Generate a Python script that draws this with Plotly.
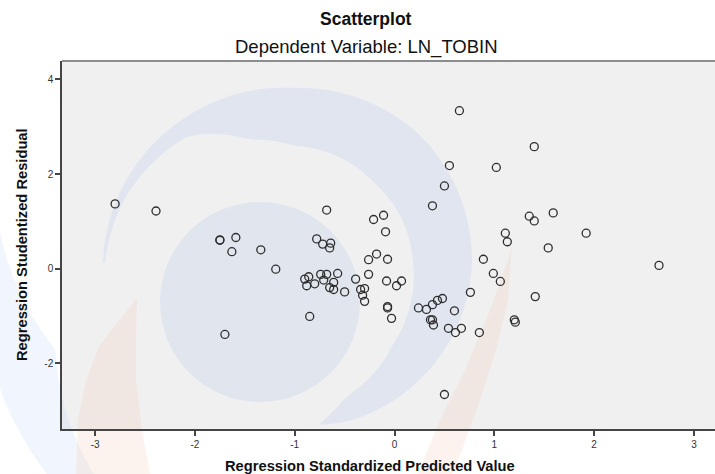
import math

import plotly.graph_objects as go

# Regression standardized predicted value (x) vs studentized residual (y)
pred_value = [
    -2.80, -2.39, -1.75, -1.75, -1.59, -1.63, -1.34, -1.19, -1.70, -0.85,
    -0.68, -0.78, -0.72, -0.64, -0.65, -0.90, -0.86, -0.88, -0.80, -0.74,
    -0.68, -0.71, -0.57, -0.61, -0.65, -0.61, -0.50, -0.39, -0.34, -0.30,
    -0.32, -0.30, -0.26, -0.26, -0.18, -0.07, -0.21, -0.11, -0.09, -0.08,
    0.07, 0.02, -0.07, -0.07, -0.03, 0.24, 0.32, 0.38, 0.43, 0.48,
    0.60, 0.36, 0.38, 0.39, 0.54, 0.61, 0.67, 0.85, 0.50, 0.65,
    0.55, 0.50, 0.38, 1.02, 1.40, 1.35, 1.40, 1.59, 1.11, 1.13,
    1.92, 1.54, 2.65, 0.89, 0.99, 1.06, 0.76, 1.41, 1.20, 1.21,
]
stud_resid = [
    1.37, 1.22, 0.61, 0.60, 0.66, 0.36, 0.40, -0.01, -1.39, -1.01,
    1.24, 0.63, 0.52, 0.54, 0.44, -0.22, -0.17, -0.36, -0.32, -0.12,
    -0.12, -0.24, -0.10, -0.29, -0.40, -0.44, -0.49, -0.22, -0.44, -0.42,
    -0.56, -0.69, -0.12, 0.19, 0.31, 0.20, 1.04, 1.13, 0.78, -0.26,
    -0.26, -0.36, -0.80, -0.83, -1.05, -0.83, -0.86, -0.76, -0.67, -0.63,
    -0.89, -1.08, -1.08, -1.19, -1.26, -1.35, -1.26, -1.35, -2.66, 3.34,
    2.18, 1.75, 1.33, 2.14, 2.58, 1.11, 1.01, 1.18, 0.75, 0.57,
    0.75, 0.44, 0.07, 0.20, -0.10, -0.27, -0.50, -0.59, -1.08, -1.13,
]
x_ticks = [-3, -2, -1, 0, 1, 2, 3]
x_tick_labels = ["-3", "-2", "-1", "0", "1", "2", "3"]
y_ticks = [-2, 0, 2, 4]
y_tick_labels = ["-2", "0", "2", "4"]

W, H = 715, 474
L, R, T, B = 62, 0, 61, 45
PW, PH = W - L - R, H - T - B
FONT = "Liberation Sans, Arial, sans-serif"


def to_paper(px, py):
    return (px - L) / PW, (H - B - py) / PH


def path_from(points):
    pts = [to_paper(x, y) for x, y in points]
    s = "M {:.4f},{:.4f} ".format(*pts[0])
    s += " ".join("L {:.4f},{:.4f}".format(x, y) for x, y in pts[1:])
    return s + " Z"


def lerp_knots(knots, a):
    for (a0, r0), (a1, r1) in zip(knots, knots[1:]):
        if a0 <= a <= a1:
            t = (a - a0) / (a1 - a0)
            return r0 + t * (r1 - r0)
    return knots[-1][1]


def band(cx, cy, outer, inner, n=80):
    a_start, a_end = outer[0][0], outer[-1][0]
    angles = [a_start + (a_end - a_start) * i / n for i in range(n + 1)]
    pts = []
    for a in angles:
        r = lerp_knots(outer, a)
        pts.append((cx + r * math.cos(math.radians(a)), cy + r * math.sin(math.radians(a))))
    for a in reversed(angles):
        r = lerp_knots(inner, a)
        pts.append((cx + r * math.cos(math.radians(a)), cy + r * math.sin(math.radians(a))))
    return pts


def wm_shape(points, color):
    return dict(type="path", xref="paper", yref="paper", path=path_from(points),
                fillcolor=color, line=dict(width=0), layer="below")


# faint logo watermark behind the plot
blue = "rgba(180,200,236,0.27)"
blue_disk = "rgba(190,206,236,0.30)"
blue_light = "rgba(190,210,245,0.22)"
orange = "rgba(245,195,172,0.20)"

crescent = band(
    295, 262,
    [(180, 192), (200, 189), (230, 182), (270, 174), (315, 178), (360, 177), (400, 172), (430, 168), (441, 165)],
    [(180, 190), (200, 182), (230, 165), (250, 130), (270, 116), (315, 112), (360, 118), (400, 128), (430, 145), (441, 163)],
)
outer_arc = band(
    295, 262,
    [(128, 330), (160, 320), (188, 305)],
    [(128, 300), (160, 255), (188, 300)],
)
left_wedge = [(137, 298), (118, 322), (100, 345), (86, 380), (78, 420), (76, 474),
              (150, 474), (142, 430), (136, 380), (136, 330)]
right_wedge = [(512, 245), (508, 300), (496, 350), (480, 400), (462, 450), (452, 474),
               (418, 474), (440, 420), (465, 370), (490, 310), (508, 260)]

disk = dict(type="circle", xref="paper", yref="paper",
            x0=to_paper(160, 0)[0], x1=to_paper(360, 0)[0],
            y0=to_paper(0, 402)[1], y1=to_paper(0, 202)[1],
            fillcolor=blue_disk, line=dict(width=0), layer="below")

shapes = [
    wm_shape(outer_arc, blue_light),
    wm_shape(left_wedge, orange),
    wm_shape(right_wedge, orange),
    wm_shape(crescent, blue),
    disk,
    dict(type="line", xref="paper", yref="paper", x0=0, x1=1, y0=1, y1=1,
         line=dict(color="#8c8c8c", width=2)),
]

fig = go.Figure()
fig.add_trace(
    go.Scatter(
        x=pred_value,
        y=stud_resid,
        mode="markers",
        marker=dict(symbol="circle-open", size=8, color="#2e2e2e",
                    line=dict(width=1.3, color="#2e2e2e")),
        hoverinfo="x+y",
        showlegend=False,
    )
)

axis_common = dict(
    showgrid=False,
    zeroline=False,
    showline=True,
    linecolor="#454545",
    linewidth=1.5,
    ticks="outside",
    ticklen=5,
    tickwidth=1.5,
    tickcolor="#454545",
    tickfont=dict(family=FONT, size=10, color="#333333"),
)

fig.update_xaxes(range=[-3.332, 3.211], tickvals=x_ticks, ticktext=x_tick_labels, **axis_common)
fig.update_yaxes(range=[-3.389, 4.391], tickvals=y_ticks, ticktext=y_tick_labels, **axis_common)

cx_title = to_paper(366, 0)[0]
annotations = [
    dict(text="<b>Scatterplot</b>", x=cx_title, y=to_paper(0, 19)[1],
         font=dict(size=17.5, color="#111111")),
    dict(text="Dependent Variable: LN_TOBIN", x=cx_title, y=to_paper(0, 47)[1],
         font=dict(size=18.5, color="#111111")),
    dict(text="<b>Regression Standardized Predicted Value</b>", x=to_paper(370, 0)[0],
         y=to_paper(0, 466)[1], font=dict(size=14.7, color="#111111")),
    dict(text="<b>Regression Studentized Residual</b>", x=to_paper(22, 0)[0],
         y=to_paper(0, 245)[1], textangle=-90, font=dict(size=14.7, color="#111111")),
]
for a in annotations:
    a.update(xref="paper", yref="paper", showarrow=False, xanchor="center", yanchor="middle")
    a["font"]["family"] = FONT

fig.update_layout(
    width=W,
    height=H,
    autosize=False,
    margin=dict(l=L, r=R, t=T, b=B, pad=0),
    paper_bgcolor="white",
    plot_bgcolor="#f0f0f0",
    shapes=shapes,
    annotations=annotations,
    font=dict(family=FONT),
)

# the page body has a default 8px margin; remove it so the figure sits at the corner
fig.write_html(
    "out.html",
    config={"displayModeBar": False},
    post_script="document.body.style.margin='0px';",
)
